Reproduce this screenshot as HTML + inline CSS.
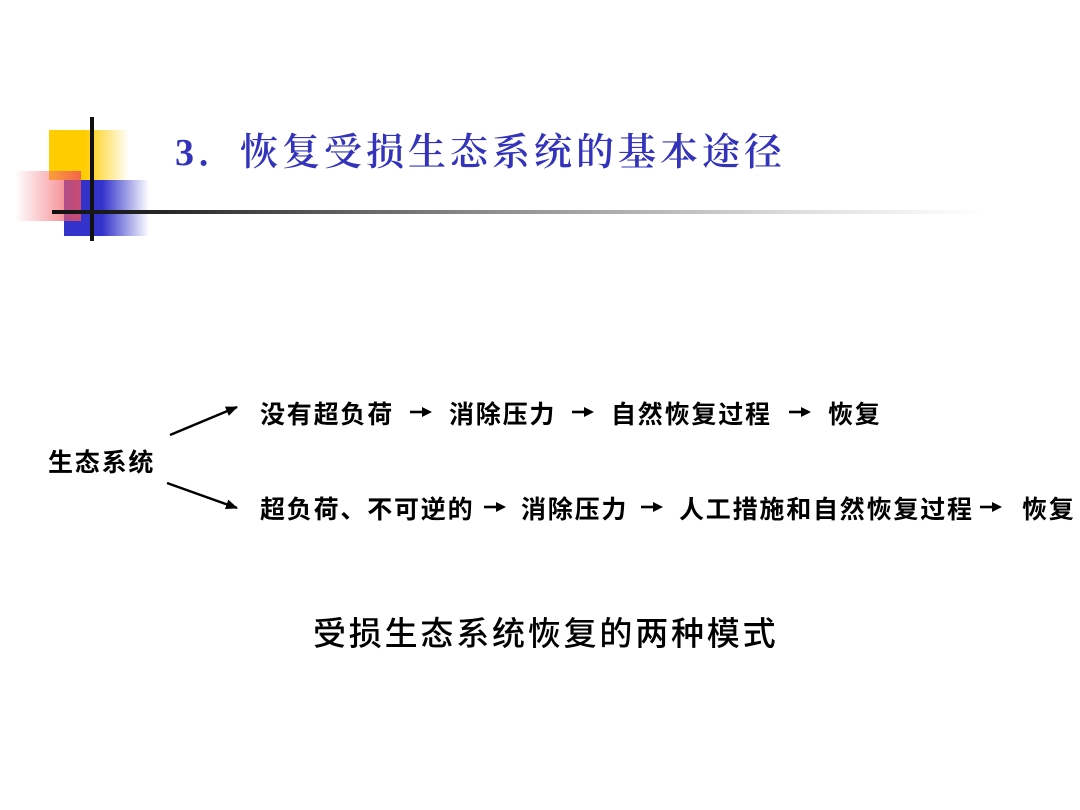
<!DOCTYPE html>
<html><head><meta charset="utf-8"><style>
body{margin:0;width:1080px;height:810px;background:#fff;position:relative;overflow:hidden}
.a{position:absolute;white-space:nowrap}
.t{font-family:"Liberation Serif","Noto Serif CJK SC",serif;color:#3333bb;font-size:38px;letter-spacing:4px;top:128px;line-height:50px;font-weight:600}
.b{font-family:"Liberation Sans","Noto Sans CJK SC",sans-serif;font-weight:bold;font-size:25px;letter-spacing:1.8px;line-height:30px;color:#000}
</style></head><body>
<div class="a" style="left:49px;top:130px;width:80px;height:50px;background:linear-gradient(90deg,#ffcc00 0,#ffcc00 45%,rgba(255,220,80,0) 100%)"></div>
<div class="a" style="left:64px;top:180px;width:85px;height:56px;background:linear-gradient(90deg,#3333cc 0,#3333cc 45%,rgba(60,60,210,0) 100%)"></div>
<div class="a" style="left:15px;top:171px;width:66px;height:50px;background:linear-gradient(90deg,rgba(255,255,255,0.2),rgba(240,80,90,0.85));opacity:.95"></div>
<div class="a" style="left:90px;top:117px;width:4px;height:124px;background:#111"></div>
<div class="a" style="left:52px;top:210px;width:930px;height:4px;background:linear-gradient(90deg,#111 0,#222 10%,#888 45%,#ddd 80%,rgba(255,255,255,0) 100%)"></div>
<div class="a t" style="left:175px">3．</div>
<div class="a t" style="left:240px">恢复受损生态系统的基本途径</div>

<div class="a b" style="left:48px;top:448px">生态系统</div>
<svg class="a" style="left:0;top:0" width="1080" height="810">
<defs>
<marker id="m" markerWidth="12" markerHeight="10" refX="11" refY="5" orient="auto" markerUnits="userSpaceOnUse"><path d="M0,0 L12,5 L0,10 Z" fill="#000"/></marker>
<g id="ar"><rect x="0" y="-1.3" width="14" height="2.6" fill="#000"/><path d="M12,-5 L22,0 L12,5 Z" fill="#000"/></g>
</defs>
<line x1="170" y1="435" x2="237" y2="407" stroke="#000" stroke-width="2.5" marker-end="url(#m)"/>
<line x1="167" y1="483" x2="237" y2="508" stroke="#000" stroke-width="2.5" marker-end="url(#m)"/>
<use href="#ar" x="410" y="412"/>
<use href="#ar" x="572" y="412"/>
<use href="#ar" x="789" y="412"/>
<use href="#ar" x="484" y="507"/>
<use href="#ar" x="641" y="507"/>
<use href="#ar" x="980" y="507"/>
</svg>
<div class="a b" style="left:260px;top:400px">没有超负荷</div>
<div class="a b" style="left:449px;top:400px">消除压力</div>
<div class="a b" style="left:611px;top:400px">自然恢复过程</div>
<div class="a b" style="left:828px;top:400px">恢复</div>

<div class="a b" style="left:260px;top:495px">超负荷、不可逆的</div>
<div class="a b" style="left:521px;top:495px">消除压力</div>
<div class="a b" style="left:679px;top:495px">人工措施和自然恢复过程</div>
<div class="a b" style="left:1022px;top:495px">恢复</div>

<div class="a" style="left:313px;top:614px;font-family:'Liberation Sans','Noto Sans CJK SC',sans-serif;font-size:33px;letter-spacing:2.8px;line-height:40px;color:#000;font-weight:500">受损生态系统恢复的两种模式</div>
</body></html>
